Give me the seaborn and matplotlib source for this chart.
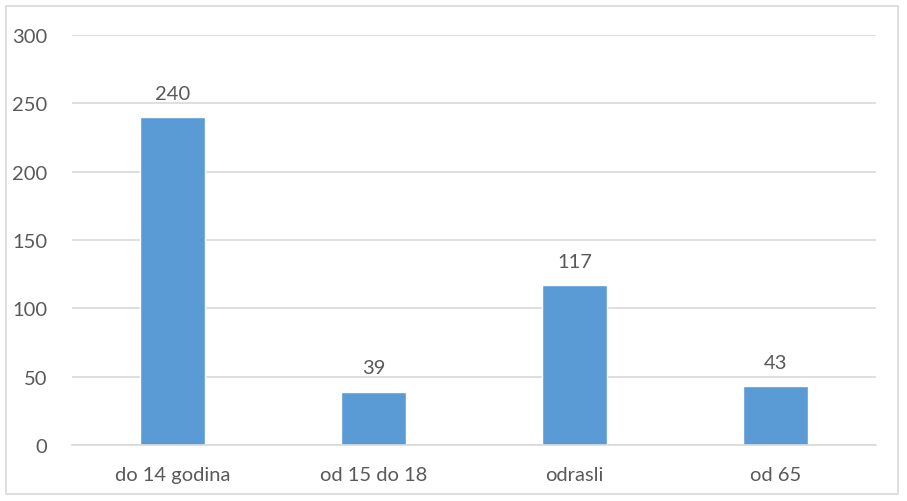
import pandas as pd
import matplotlib.pyplot as plt
import seaborn as sns
from matplotlib.patches import Rectangle

# Data
categories = ["do 14 godina", "od 15 do 18", "odrasli", "od 65"]
values = [240, 39, 117, 43]

df = pd.DataFrame({"group": categories, "count": values})

sns.set_theme(style="white")
plt.rcParams['font.family'] = ['Lato', 'DejaVu Sans']

text_col = '#595959'
grid_col = '#D9D9D9'
bar_col = '#5B9BD5'
fs = 14.5

fig = plt.figure(figsize=(9.07, 5.02), dpi=100)
ax = fig.add_axes([72 / 907, 56 / 502, 804 / 907, 410 / 502])

sns.barplot(data=df, x="group", y="count", color=bar_col, width=0.32,
            saturation=1, ax=ax)

ax.set_ylim(0, 300)
ax.set_yticks([0, 50, 100, 150, 200, 250, 300])
ax.yaxis.grid(True, color=grid_col, linewidth=1.2)
ax.set_axisbelow(True)
ax.set_xlabel("")
ax.set_ylabel("")

for s in ["top", "right", "left"]:
    ax.spines[s].set_visible(False)
ax.spines["bottom"].set_color(grid_col)
ax.spines["bottom"].set_linewidth(1.2)

ax.tick_params(axis='y', length=0, pad=18, labelsize=fs, labelcolor=text_col)
ax.tick_params(axis='x', length=0, pad=15, labelsize=fs, labelcolor=text_col)

for c in ax.containers:
    ax.bar_label(c, labels=[str(v) for v in values], padding=11,
                 fontsize=fs, color=text_col)

# light outer frame like the chart area border
fig.patches.append(Rectangle((6 / 907, 7 / 502), 892 / 907, 488 / 502,
                             transform=fig.transFigure, fill=False,
                             edgecolor=grid_col, linewidth=1.2))

plt.savefig("out.png", dpi=100, facecolor='white')
plt.close()
